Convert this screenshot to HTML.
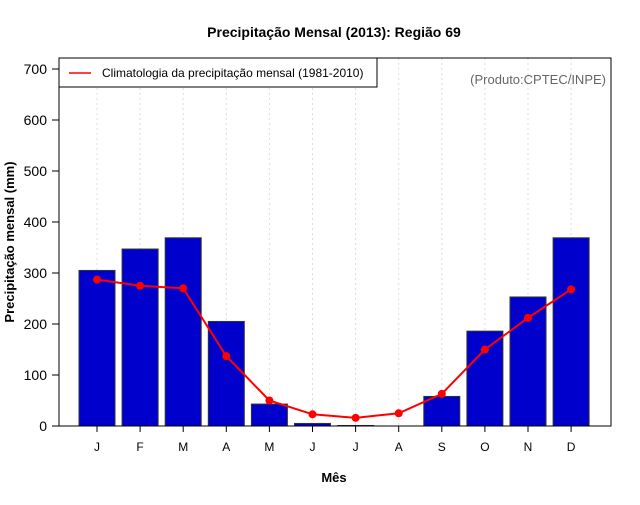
<!DOCTYPE html>
<html><head><meta charset="utf-8"><style>
body{margin:0;background:#fff;font-family:"Liberation Sans",sans-serif}
</style></head><body>
<svg id="c" width="640" height="500" xmlns="http://www.w3.org/2000/svg" font-family="Liberation Sans, sans-serif">
<rect width="640" height="500" fill="#fff"/>
<text x="334" y="37" text-anchor="middle" font-size="14" font-weight="bold">Precipitação Mensal (2013): Região 69</text>
<text x="334" y="482" text-anchor="middle" font-size="13" font-weight="bold">Mês</text>
<text transform="translate(14,242) rotate(-90)" text-anchor="middle" font-size="13" font-weight="bold">Precipitação mensal (mm)</text>
<g id="grid"></g><g id="bars"></g><g id="line"></g><g id="axes"></g>
<rect x="59" y="58" width="552" height="368" fill="none" stroke="#000"/>
<g>
<rect x="59" y="58" width="318" height="29" fill="#fff" stroke="#000"/>
<line x1="69" y1="73" x2="91" y2="73" stroke="red" stroke-width="1.5"/>
<text x="102" y="77" font-size="12">Climatologia da precipitação mensal (1981-2010)</text>
</g>
<text x="606" y="84" text-anchor="end" font-size="13" fill="#666">(Produto:CPTEC/INPE)</text>
</svg>
<script>
const months=["J","F","M","A","M","J","J","A","S","O","N","D"];
const precip=[305,347,369,205,43,5,1,0,58,186,253,369];
const clim=[287,275,270,137,50,23,16,25,63,150,212,268];
const yTicks=[0,100,200,300,400,500,600,700];
const NS="http://www.w3.org/2000/svg";
const y=v=>426-v*(426-69)/700;
const x=i=>97+i*43.1;
function mk(t,a,p){const e=document.createElementNS(NS,t);for(const k in a)e.setAttribute(k,a[k]);document.getElementById(p).appendChild(e);return e;}
months.forEach((m,i)=>{
 const g=mk("line",{x1:x(i),x2:x(i),y1:58,y2:426,stroke:"#ddd","stroke-dasharray":"2,3"},"grid");
 
 
 const b=mk("rect",{x:x(i)-18,y:y(precip[i]),width:36,height:426-y(precip[i]),fill:"#0000cd",stroke:"#333"},"bars");
 
 
 const t=mk("line",{x1:x(i),x2:x(i),y1:426,y2:432,stroke:"#000"},"axes");
 
 
 const l=mk("text",{x:x(i),y:451,"text-anchor":"middle","font-size":"12"},"axes");l.textContent=m;
 
 
});
const pl=mk("polyline",{points:clim.map((v,i)=>x(i)+","+y(v)).join(" "),fill:"none",stroke:"red","stroke-width":"2"},"line");


clim.forEach((v,i)=>{const c=mk("circle",{cx:x(i),cy:y(v),r:4,fill:"red"},"line");
 
 });
yTicks.forEach(v=>{
 const t=mk("line",{x1:52,x2:59,y1:y(v),y2:y(v),stroke:"#000"},"axes");
 
 
 const l=mk("text",{x:47,y:y(v)+5,"text-anchor":"end","font-size":"14"},"axes");l.textContent=v;
 
 
});
</script>
</body></html>
